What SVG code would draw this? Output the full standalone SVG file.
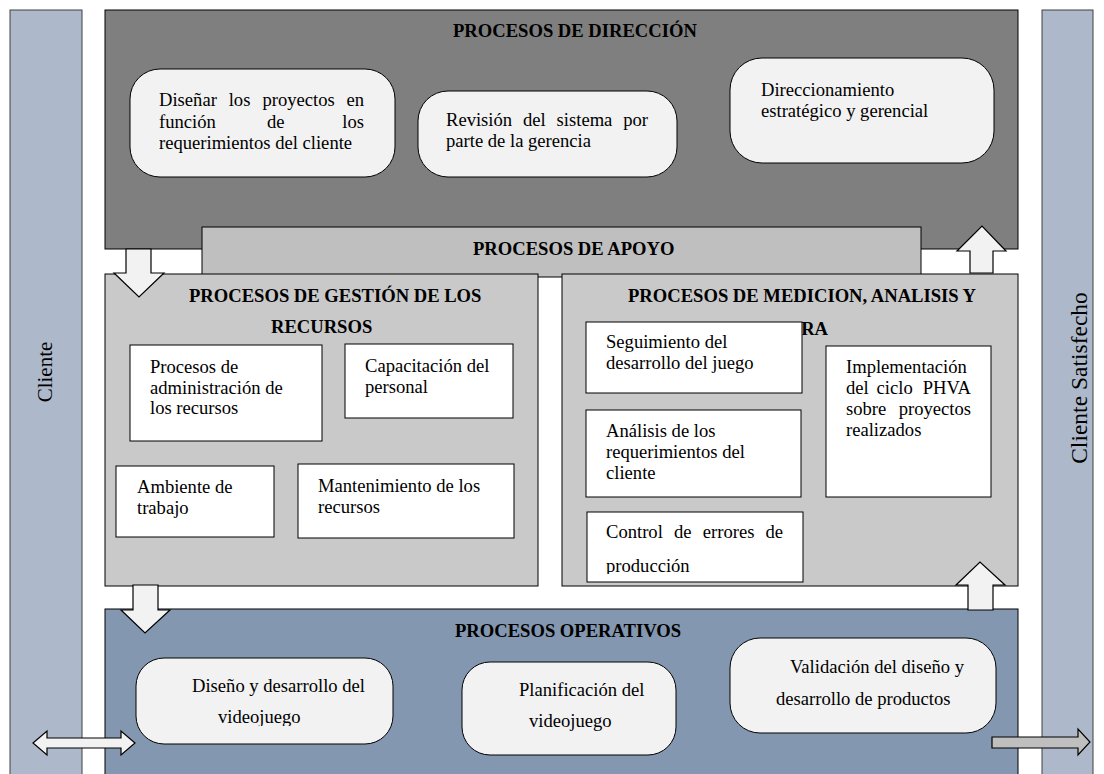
<svg xmlns="http://www.w3.org/2000/svg" width="1104" height="774" viewBox="0 0 1104 774">
<style>
text{font-family:"Liberation Serif","Times New Roman",serif;font-size:18.6px;fill:#000}
.h{font-weight:bold}
.bar{fill:#adb9ca;stroke:#404040;stroke-width:1}
.dir{fill:#7f7f7f;stroke:#000;stroke-width:1}
.apo{fill:#bfbfbf;stroke:#000;stroke-width:1}
.mid{fill:#c9c9c9;stroke:#000;stroke-width:1}
.ope{fill:#8497b0;stroke:#000;stroke-width:1}
.rnd{fill:#f2f2f2;stroke:#000;stroke-width:1}
.wbox{fill:#fff;stroke:#000;stroke-width:1}
.arr{fill:#f2f2f2;stroke:#000;stroke-width:1.2;stroke-linejoin:miter}
.arr2{fill:#bfbfbf;stroke:#000;stroke-width:1.2}
.side{font-size:21px}
</style>
<defs>
<clipPath id="clipVid"><rect x="130" y="650" width="270" height="76"/></clipPath>
<clipPath id="clipProd"><rect x="580" y="505" width="230" height="69"/></clipPath>
</defs>

<g id="cliente">
<rect class="bar" x="10" y="10" width="72" height="775"/>
<text class="side" transform="translate(52,372) rotate(-90)" text-anchor="middle">Cliente</text>
</g>
<g id="cliente-satisfecho">
<rect class="bar" x="1042" y="10" width="51" height="775"/>
<text class="side" style="font-size:23.5px" transform="translate(1087,378) rotate(-90)" text-anchor="middle">Cliente Satisfecho</text>
</g>

<g id="procesos-direccion">
<rect class="dir" x="105" y="10" width="913" height="239"/>
<text class="h" x="453" y="37">PROCESOS DE DIRECCIÓN</text>
</g>
<g id="disenar-proyectos">
<rect class="rnd" x="130" y="69" width="265" height="108" rx="30"/>
<text y="106"><tspan x="159">Diseñar</tspan><tspan x="228.7">los</tspan><tspan x="262.5">proyectos</tspan><tspan x="364" text-anchor="end">en</tspan></text>
<text y="127.5"><tspan x="159">función</tspan><tspan x="267">de</tspan><tspan x="364" text-anchor="end">los</tspan></text>
<text x="159" y="149">requerimientos del cliente</text>
</g>
<g id="revision-sistema">
<rect class="rnd" x="418" y="91" width="259" height="86" rx="30"/>
<text y="126"><tspan x="446">Revisión</tspan><tspan x="523">del</tspan><tspan x="556.6">sistema</tspan><tspan x="648" text-anchor="end">por</tspan></text>
<text x="446" y="147">parte de la gerencia</text>
</g>
<g id="direccionamiento">
<rect class="rnd" x="730" y="58" width="264" height="105" rx="32"/>
<text x="761" y="96">Direccionamiento</text>
<text x="761" y="117">estratégico y gerencial</text>
</g>

<g id="procesos-apoyo">
<rect class="apo" x="202" y="227" width="719" height="50"/>
<text class="h" x="473" y="255">PROCESOS DE APOYO</text>
</g>

<g id="procesos-gestion-recursos">
<rect class="mid" x="105" y="274" width="433" height="312"/>
<text class="h" x="189" y="302">PROCESOS DE GESTIÓN DE LOS</text>
<text class="h" x="271" y="333">RECURSOS</text>
</g>
<g id="administracion-recursos">
<rect class="wbox" x="130" y="345" width="192" height="96"/>
<text x="150" y="373">Procesos de</text>
<text x="150" y="393.5">administración de</text>
<text x="150" y="414">los recursos</text>
</g>
<g id="capacitacion">
<rect class="wbox" x="345" y="344" width="168" height="74"/>
<text x="365" y="372">Capacitación del</text>
<text x="365" y="393">personal</text>
</g>
<g id="ambiente-trabajo">
<rect class="wbox" x="116" y="466" width="158" height="71"/>
<text x="137" y="493">Ambiente de</text>
<text x="137" y="514">trabajo</text>
</g>
<g id="mantenimiento">
<rect class="wbox" x="298" y="464" width="216" height="74"/>
<text x="318" y="492">Mantenimiento de los</text>
<text x="318" y="513">recursos</text>
</g>

<g id="procesos-medicion">
<rect class="mid" x="562" y="274" width="456" height="312"/>
<text class="h" x="628" y="302">PROCESOS DE MEDICION, ANALISIS Y</text>
<text class="h" x="828" y="335" text-anchor="end">MEJORA</text>
</g>
<g id="seguimiento">
<rect class="wbox" x="586" y="322" width="216" height="71"/>
<text x="606" y="348">Seguimiento del</text>
<text x="606" y="369">desarrollo del juego</text>
</g>
<g id="analisis-requerimientos">
<rect class="wbox" x="586" y="410" width="215" height="87"/>
<text x="606" y="437">Análisis de los</text>
<text x="606" y="458">requerimientos del</text>
<text x="606" y="479">cliente</text>
</g>
<g id="control-errores">
<rect class="wbox" x="587" y="512" width="216" height="70"/>
<text y="538"><tspan x="606">Control</tspan><tspan x="673.9">de</tspan><tspan x="702.8">errores</tspan><tspan x="783" text-anchor="end">de</tspan></text>
<text x="606" y="572" clip-path="url(#clipProd)">producción</text>
</g>
<g id="implementacion-phva">
<rect class="wbox" x="826" y="346" width="165" height="151"/>
<text x="846" y="373">Implementación</text>
<text y="393.5"><tspan x="846">del</tspan><tspan x="876.6">ciclo</tspan><tspan x="971" text-anchor="end">PHVA</tspan></text>
<text y="415"><tspan x="846">sobre</tspan><tspan x="971" text-anchor="end">proyectos</tspan></text>
<text x="846" y="436">realizados</text>
</g>

<g id="procesos-operativos">
<rect class="ope" x="105" y="609" width="913" height="175"/>
<text class="h" x="455" y="637">PROCESOS OPERATIVOS</text>
</g>
<g id="diseno-desarrollo">
<rect class="rnd" x="136" y="658" width="257" height="86" rx="28"/>
<text x="192" y="692">Diseño y desarrollo del</text>
<text x="218" y="723" clip-path="url(#clipVid)">videojuego</text>
</g>
<g id="planificacion">
<rect class="rnd" x="462" y="662" width="214" height="93" rx="28"/>
<text x="519" y="696">Planificación del</text>
<text x="529" y="727">videojuego</text>
</g>
<g id="validacion">
<rect class="rnd" x="730" y="638" width="266" height="95" rx="30"/>
<text x="790" y="673">Validación del diseño y</text>
<text x="776" y="705">desarrollo de productos</text>
</g>

<g id="connectors">
<polygon class="arr" points="126,249 151,249 151,273 164,273 139,297 114,273 126,273"/>
<polygon class="arr" points="133,585 158,585 158,610 170,610 145,633 121,610 133,610"/>
<polygon class="arr" points="970,273 993,273 993,251 1006,251 982,226 957,251 970,251"/>
<polygon class="arr" points="968,610 993,610 993,585 1005,585 980,562 956,585 968,585"/>
<polygon class="arr" points="33,743 47,731 47,738 121,738 121,731 135,743 121,755 121,748 47,748 47,755"/>
<polygon class="arr2" points="992,737 1078,737 1078,729 1090,742 1078,755 1078,748 992,748"/>
</g>
</svg>
